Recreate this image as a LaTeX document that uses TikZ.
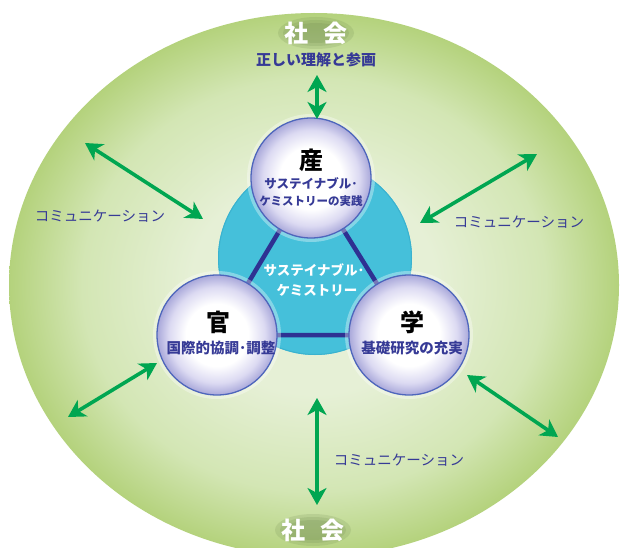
\documentclass[tikz,border=0pt]{standalone}
\usepackage{fontspec}
\newfontfamily\jp{Noto Sans CJK JP}
\usetikzlibrary{arrows.meta}
\definecolor{bgin}{HTML}{E6F0D6}
\definecolor{bgmid}{HTML}{D3E6B4}
\definecolor{bgout}{HTML}{B4D27C}
\definecolor{cyanc}{HTML}{45C0DA}
\definecolor{cyanedge}{HTML}{3AB2CF}
\definecolor{navy}{HTML}{2E3192}
\definecolor{txtblue}{HTML}{363A96}
\definecolor{arrowgreen}{HTML}{00A651}
\definecolor{ringblue}{HTML}{4E66BC}
\definecolor{lav}{HTML}{A9A8DA}
\definecolor{lavmid}{HTML}{DCDAF2}
\definecolor{shadowc}{HTML}{4F6A35}
\pgfdeclareradialshading{bgshade}{\pgfpoint{0bp}{0bp}}{color(0bp)=(bgin);color(10bp)=(bgin);color(19bp)=(bgmid);color(25bp)=(bgout);color(50bp)=(bgout)}
\pgfdeclareradialshading{ballshade}{\pgfpoint{0bp}{0bp}}{color(0bp)=(white);color(13bp)=(white);color(20bp)=(lavmid);color(25bp)=(lav);color(50bp)=(lav)}
\tikzset{
  sphere/.style={circle,minimum size=120pt,inner sep=0pt,shading=ballshade,draw=ringblue,line width=1.3pt},
  dbl/.style={draw=arrowgreen,line width=3.6pt,{Stealth[length=17pt,width=19pt,inset=5pt]}-{Stealth[length=17pt,width=19pt,inset=5pt]}},
  bigchar/.style={font=\jp\bfseries\fontsize{24}{26}\selectfont,text=black,inner sep=0pt},
  subtxt/.style={text=txtblue,inner sep=0pt},
  comm/.style={font=\jp\fontsize{14.5}{16}\selectfont,text=txtblue,inner sep=0pt},
  soc/.style={font=\jp\bfseries\fontsize{24}{26}\selectfont,text=white,inner sep=0pt},
  triline/.style={draw=navy,line width=4.5pt}
}
\newcommand{\socshadow}[1]{%
  \foreach \rx/\ry in {38/16,33/13,28/10}{
    \fill[shadowc,opacity=0.13] (#1) ellipse [x radius=\rx, y radius=\ry];
  }
}
\begin{document}
\begin{tikzpicture}[x=1pt,y=-1pt]
\useasboundingbox (0,0) rectangle (621,548);
\fill[white] (0,0) rectangle (621,548);
% background ellipse
\begin{scope}
\clip (0,0) rectangle (621,548);
\shade[shading=bgshade] (314,285) ellipse [x radius=305, y radius=272];
\end{scope}
% cyan central disc
\fill[cyanc] (315,258) circle [radius=97];
\draw[cyanedge,line width=1pt] (315,258) circle [radius=96.5];
% triangle
\coordinate (cs) at (311,178);
\coordinate (ck) at (217,335);
\coordinate (cg) at (409,335);
\draw[triline] (cs) -- (ck) -- (cg) -- cycle;
% glows
\foreach \p in {cs,ck,cg}{\fill[white,opacity=0.35] (\p) circle [radius=64];}
% spheres
\node[sphere] (san) at (cs) {};
\node[sphere] (kan) at (ck) {};
\node[sphere] (gaku) at (cg) {};
% center text
\node[font=\jp\bfseries\fontsize{13.5}{15}\selectfont,text=white,inner sep=0pt] (core1) at (314,270) {サステイナブル･};
\node[font=\jp\bfseries\fontsize{13.5}{15}\selectfont,text=white,inner sep=0pt] (core2) at (317,290) {ケミストリー};
% sphere texts
\node[bigchar] (t1) at (311,160) {産};
\node[subtxt,font=\jp\bfseries\fontsize{12.5}{14}\selectfont] (t1a) at (311,184) {サステイナブル･};
\node[subtxt,font=\jp\bfseries\fontsize{11.5}{14}\selectfont] (t1b) at (311,201) {ケミストリーの実践};
\node[bigchar] (t2) at (218,322) {官};
\node[subtxt,font=\jp\bfseries\fontsize{14.5}{16}\selectfont] (t2a) at (221,348) {国際的協調･調整};
\node[bigchar] (t3) at (412,322) {学};
\node[subtxt,font=\jp\bfseries\fontsize{14.5}{16}\selectfont] (t3a) at (412,348) {基礎研究の充実};
% society labels
\socshadow{316,33}
\node[soc] (soctop) at (316,33) {社\hspace{0.6em}会};
\socshadow{313,530}
\node[soc] (socbot) at (313,530) {社\hspace{0.6em}会};
\node[font=\jp\bfseries\fontsize{15}{17}\selectfont,text=txtblue,inner sep=0pt] (understand) at (316,60) {正しい理解と参画};
% communication labels
\node[comm] (cm1) at (100,216) {コミュニケーション};
\node[comm] (cm2) at (519,222) {コミュニケーション};
\node[comm] (cm3) at (399,460) {コミュニケーション};
% arrows
\coordinate (a1s) at (317,75);  \coordinate (a1e) at (317,119);
\coordinate (a2s) at (85,143);  \coordinate (a2e) at (203,219);
\coordinate (a3s) at (420,223); \coordinate (a3e) at (537,154);
\coordinate (a4s) at (68,417);  \coordinate (a4e) at (157,363);
\coordinate (a5s) at (467,375); \coordinate (a5e) at (558,437);
\coordinate (a6s) at (317,398); \coordinate (a6e) at (317,505);
\foreach \s/\e in {a1s/a1e,a2s/a2e,a3s/a3e,a4s/a4e,a5s/a5e,a6s/a6e}{\draw[dbl] (\s) -- (\e);}
\end{tikzpicture}
\end{document}
